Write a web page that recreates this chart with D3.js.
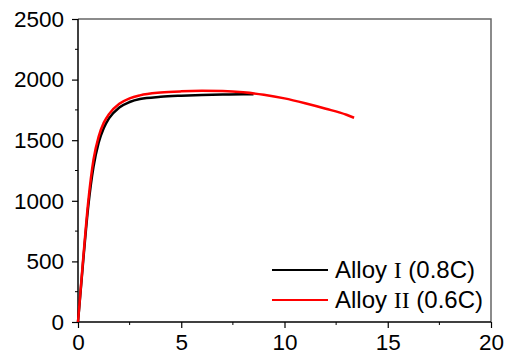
<!DOCTYPE html>
<html>
<head>
<meta charset="utf-8">
<script src="https://cdn.jsdelivr.net/npm/d3@7"></script>
<style>
  body { margin: 0; background: #fff; }
  text { font-family: "Liberation Sans", Arial, sans-serif; }
</style>
</head>
<body>
<svg id="chart" width="515" height="361"></svg>
<script>
// Alloy I (0.8C)
const strainI = [0, 0.25, 0.5, 0.75, 1.0, 1.25, 1.5, 2.0, 2.5, 3.0, 4.0, 5.0, 6.0, 7.0, 8.0, 8.5];
const stressI = [0, 500, 960, 1280, 1480, 1600, 1680, 1770, 1815, 1840, 1858, 1867, 1873, 1877, 1879, 1879];
// Alloy II (0.6C)
const strainII = [0, 0.25, 0.5, 0.75, 1.0, 1.25, 1.5, 2.0, 2.5, 3.0, 4.0, 5.0, 6.0, 7.0, 8.0, 9.0, 10.0, 11.0, 12.0, 13.0, 13.37];
const stressII = [0, 520, 1000, 1340, 1530, 1645, 1715, 1800, 1845, 1870, 1893, 1903, 1907, 1905, 1895, 1875, 1845, 1805, 1760, 1710, 1685];

const xTicks = [0, 5, 10, 15, 20];
const yTicks = [0, 500, 1000, 1500, 2000, 2500];
const xMinor = [2.5, 7.5, 12.5, 17.5];
const yMinor = [250, 750, 1250, 1750, 2250];

const series = [
  { name: ['Alloy ', 'I', ' (0.8C)'], x: strainI, y: stressI, color: '#000000' },
  { name: ['Alloy ', 'II', ' (0.6C)'], x: strainII, y: stressII, color: '#ff0000' }
];

const svg = d3.select('#chart');
const pLeft = 78, pRight = 491, pTop = 19, pBottom = 322;

const x = d3.scaleLinear().domain([0, 20]).range([pLeft, pRight]);
const y = d3.scaleLinear().domain([0, 2500]).range([pBottom, pTop]);

// frame (top + right)
svg.append('path')
  .attr('d', `M${pLeft},${pTop}H${pRight}V${pBottom}`)
  .attr('fill', 'none')
  .attr('stroke', '#666')
  .attr('stroke-width', 1.5);

// axes
const xAxis = svg.append('g')
  .attr('transform', `translate(0,${pBottom})`)
  .call(d3.axisBottom(x).tickValues(xTicks).tickSize(6).tickPadding(6).tickFormat(d3.format('d')));
xAxis.selectAll('line.minor')
  .data(xMinor)
  .join('line')
  .attr('class', 'minor')
  .attr('x1', d => x(d)).attr('x2', d => x(d))
  .attr('y1', 0).attr('y2', 3)
  .attr('stroke', '#000');

const yAxis = svg.append('g')
  .attr('transform', `translate(${pLeft},0)`)
  .call(d3.axisLeft(y).tickValues(yTicks).tickSize(6).tickPadding(8).tickFormat(d3.format('d')));
yAxis.selectAll('line.minor')
  .data(yMinor)
  .join('line')
  .attr('class', 'minor')
  .attr('x1', 0).attr('x2', -3)
  .attr('y1', d => y(d)).attr('y2', d => y(d))
  .attr('stroke', '#000');

[xAxis, yAxis].forEach(g => {
  g.select('.domain').attr('stroke', '#000').attr('stroke-width', 1.5);
  g.selectAll('.tick line').attr('stroke', '#000').attr('stroke-width', 1.2);
  g.selectAll('.tick text')
    .style('font-family', '"Liberation Sans", Arial, sans-serif')
    .style('font-size', '22.5px')
    .attr('fill', '#000');
});
xAxis.select('.domain').attr('d', `M${pLeft},0H${pRight}`);
yAxis.select('.domain').attr('d', `M0,${pBottom}V${pTop}`);

// curves
const line = d3.line()
  .x(d => x(d[0]))
  .y(d => y(d[1]))
  .curve(d3.curveMonotoneX);

series.forEach(s => {
  svg.append('path')
    .datum(s.x.map((v, i) => [v, s.y[i]]))
    .attr('d', line)
    .attr('fill', 'none')
    .attr('stroke', s.color)
    .attr('stroke-width', 2.5);
});

// legend
series.forEach((s, i) => {
  const ly = 270 + i * 30;
  svg.append('line')
    .attr('x1', 272).attr('x2', 328)
    .attr('y1', ly).attr('y2', ly)
    .attr('stroke', s.color)
    .attr('stroke-width', 2);
  const t = svg.append('text')
    .attr('x', 335)
    .attr('y', ly + 8)
    .style('font-size', '24px')
    .attr('fill', '#000');
  t.append('tspan').text(s.name[0]);
  t.append('tspan').style('font-family', '"Liberation Serif", "Times New Roman", serif').text(s.name[1]);
  t.append('tspan').text(s.name[2]);
});
</script>
</body>
</html>
